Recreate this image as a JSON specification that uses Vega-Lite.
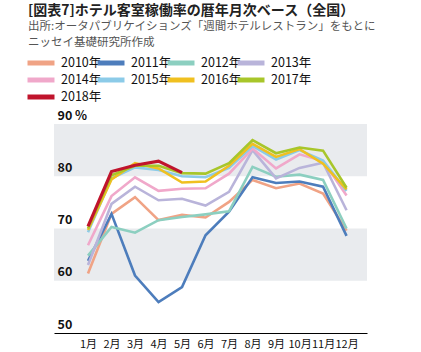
{
  "$schema": "https://vega.github.io/schema/vega-lite/v6.json",
  "width": 313,
  "height": 209,
  "autosize": "none",
  "padding": {"left": 54, "top": 124, "right": 54, "bottom": 19},
  "background": "white",
  "config": {"view": {"stroke": null}, "font": "Noto Sans CJK JP"},
  "title": {
    "text": "[図表7]ホテル客室稼働率の暦年月次ベース（全国）",
    "subtitle": ["出所:オータパブリケイションズ「週間ホテルレストラン」をもとに", "ニッセイ基礎研究所作成"],
    "anchor": "start",
    "frame": "group",
    "dx": -26,
    "dy": -3,
    "offset": 5,
    "font": "Noto Sans CJK JP",
    "fontSize": 14,
    "fontWeight": "bold",
    "color": "#222222",
    "subtitleFont": "Noto Sans CJK JP",
    "subtitleFontSize": 11.5,
    "subtitleColor": "#555555",
    "subtitlePadding": 3,
    "subtitleLineHeight": 16
  },
  "datasets": {
    "bands": [{"lo": 60, "hi": 70}, {"lo": 80, "hi": 90}],
    "occ": [
      {"year": "2010年", "m": 1, "v": 61.4}, {"year": "2010年", "m": 2, "v": 72.8}, {"year": "2010年", "m": 3, "v": 76.0}, {"year": "2010年", "m": 4, "v": 71.6}, {"year": "2010年", "m": 5, "v": 72.6}, {"year": "2010年", "m": 6, "v": 72.1}, {"year": "2010年", "m": 7, "v": 75.1}, {"year": "2010年", "m": 8, "v": 79.3}, {"year": "2010年", "m": 9, "v": 77.7}, {"year": "2010年", "m": 10, "v": 78.6}, {"year": "2010年", "m": 11, "v": 76.7}, {"year": "2010年", "m": 12, "v": 69.6},
      {"year": "2011年", "m": 1, "v": 63.8}, {"year": "2011年", "m": 2, "v": 72.8}, {"year": "2011年", "m": 3, "v": 61.0}, {"year": "2011年", "m": 4, "v": 55.9}, {"year": "2011年", "m": 5, "v": 58.8}, {"year": "2011年", "m": 6, "v": 68.7}, {"year": "2011年", "m": 7, "v": 73.2}, {"year": "2011年", "m": 8, "v": 79.8}, {"year": "2011年", "m": 9, "v": 78.7}, {"year": "2011年", "m": 10, "v": 79.0}, {"year": "2011年", "m": 11, "v": 78.0}, {"year": "2011年", "m": 12, "v": 68.6},
      {"year": "2012年", "m": 1, "v": 64.8}, {"year": "2012年", "m": 2, "v": 70.3}, {"year": "2012年", "m": 3, "v": 69.2}, {"year": "2012年", "m": 4, "v": 71.6}, {"year": "2012年", "m": 5, "v": 72.2}, {"year": "2012年", "m": 6, "v": 72.7}, {"year": "2012年", "m": 7, "v": 73.3}, {"year": "2012年", "m": 8, "v": 81.8}, {"year": "2012年", "m": 9, "v": 79.9}, {"year": "2012年", "m": 10, "v": 80.3}, {"year": "2012年", "m": 11, "v": 79.3}, {"year": "2012年", "m": 12, "v": 70.0},
      {"year": "2013年", "m": 1, "v": 63.0}, {"year": "2013年", "m": 2, "v": 74.7}, {"year": "2013年", "m": 3, "v": 78.0}, {"year": "2013年", "m": 4, "v": 75.4}, {"year": "2013年", "m": 5, "v": 75.7}, {"year": "2013年", "m": 6, "v": 74.4}, {"year": "2013年", "m": 7, "v": 77.0}, {"year": "2013年", "m": 8, "v": 85.0}, {"year": "2013年", "m": 9, "v": 79.6}, {"year": "2013年", "m": 10, "v": 81.6}, {"year": "2013年", "m": 11, "v": 82.6}, {"year": "2013年", "m": 12, "v": 73.5},
      {"year": "2014年", "m": 1, "v": 66.8}, {"year": "2014年", "m": 2, "v": 76.2}, {"year": "2014年", "m": 3, "v": 79.8}, {"year": "2014年", "m": 4, "v": 77.2}, {"year": "2014年", "m": 5, "v": 77.6}, {"year": "2014年", "m": 6, "v": 77.7}, {"year": "2014年", "m": 7, "v": 80.5}, {"year": "2014年", "m": 8, "v": 85.3}, {"year": "2014年", "m": 9, "v": 81.5}, {"year": "2014年", "m": 10, "v": 84.2}, {"year": "2014年", "m": 11, "v": 82.9}, {"year": "2014年", "m": 12, "v": 76.3},
      {"year": "2015年", "m": 1, "v": 69.3}, {"year": "2015年", "m": 2, "v": 79.6}, {"year": "2015年", "m": 3, "v": 81.7}, {"year": "2015年", "m": 4, "v": 81.2}, {"year": "2015年", "m": 5, "v": 80.0}, {"year": "2015年", "m": 6, "v": 79.8}, {"year": "2015年", "m": 7, "v": 81.6}, {"year": "2015年", "m": 8, "v": 85.8}, {"year": "2015年", "m": 9, "v": 83.2}, {"year": "2015年", "m": 10, "v": 85.0}, {"year": "2015年", "m": 11, "v": 83.0}, {"year": "2015年", "m": 12, "v": 77.2},
      {"year": "2016年", "m": 1, "v": 69.7}, {"year": "2016年", "m": 2, "v": 79.4}, {"year": "2016年", "m": 3, "v": 82.5}, {"year": "2016年", "m": 4, "v": 81.5}, {"year": "2016年", "m": 5, "v": 78.8}, {"year": "2016年", "m": 6, "v": 79.0}, {"year": "2016年", "m": 7, "v": 82.0}, {"year": "2016年", "m": 8, "v": 86.2}, {"year": "2016年", "m": 9, "v": 83.7}, {"year": "2016年", "m": 10, "v": 85.2}, {"year": "2016年", "m": 11, "v": 82.4}, {"year": "2016年", "m": 12, "v": 77.5},
      {"year": "2017年", "m": 1, "v": 70.0}, {"year": "2017年", "m": 2, "v": 80.2}, {"year": "2017年", "m": 3, "v": 82.0}, {"year": "2017年", "m": 4, "v": 82.0}, {"year": "2017年", "m": 5, "v": 80.6}, {"year": "2017年", "m": 6, "v": 80.5}, {"year": "2017年", "m": 7, "v": 82.5}, {"year": "2017年", "m": 8, "v": 86.9}, {"year": "2017年", "m": 9, "v": 84.4}, {"year": "2017年", "m": 10, "v": 85.5}, {"year": "2017年", "m": 11, "v": 84.9}, {"year": "2017年", "m": 12, "v": 77.8},
      {"year": "2018年", "m": 1, "v": 70.4}, {"year": "2018年", "m": 2, "v": 80.9}, {"year": "2018年", "m": 3, "v": 82.1}, {"year": "2018年", "m": 4, "v": 82.9}, {"year": "2018年", "m": 5, "v": 80.7}
    ]
  },
  "layer": [
    {
      "data": {"name": "bands"},
      "mark": {"type": "rect", "color": "#e9ebee"},
      "encoding": {
        "y": {
          "field": "lo", "type": "quantitative",
          "scale": {"domain": [50, 90], "nice": false, "zero": false},
          "axis": {
            "values": [50, 60, 70, 80, 90],
            "labelExpr": "datum.value == 90 ? '90 %' : datum.label",
            "title": null, "grid": false, "ticks": false, "domain": false, "zindex": 2,
            "labelAlign": "left", "labelBaseline": "bottom", "labelPadding": -3, "labelOffset": -2,
            "labelColor": "#111111", "labelFontSize": 12.5, "labelFontWeight": "bold",
            "labelFont": "Noto Sans CJK JP", "labelFlush": false, "labelOverlap": false
          }
        },
        "y2": {"field": "hi"}
      }
    },
    {
      "data": {"name": "occ"},
      "mark": {"type": "line", "strokeCap": "butt", "strokeJoin": "miter"},
      "encoding": {
        "x": {
          "field": "m", "type": "quantitative",
          "scale": {"domain": [-0.447, 12.87], "nice": false, "zero": false},
          "axis": {
            "values": [1, 2, 3, 4, 5, 6, 7, 8, 9, 10, 11, 12],
            "labelExpr": "datum.value + '月'",
            "title": null, "grid": false, "ticks": false, "zindex": 2,
            "domainColor": "#000000", "domainWidth": 1,
            "labelColor": "#111111", "labelFontSize": 11, "labelPadding": 5,
            "labelFont": "Noto Sans CJK JP", "labelFlush": false, "labelOverlap": false
          }
        },
        "y": {
          "field": "v", "type": "quantitative",
          "scale": {"domain": [50, 90], "nice": false, "zero": false},
          "axis": {
            "values": [50, 60, 70, 80, 90],
            "labelExpr": "datum.value == 90 ? '90 %' : datum.label",
            "title": null, "grid": false, "ticks": false, "domain": false, "zindex": 2,
            "labelAlign": "left", "labelBaseline": "bottom", "labelPadding": -3, "labelOffset": -2,
            "labelColor": "#111111", "labelFontSize": 12.5, "labelFontWeight": "bold",
            "labelFont": "Noto Sans CJK JP", "labelFlush": false, "labelOverlap": false
          }
        },
        "color": {
          "field": "year", "type": "nominal",
          "scale": {
            "domain": ["2010年", "2011年", "2012年", "2013年", "2014年", "2015年", "2016年", "2017年", "2018年"],
            "range": ["#f0a385", "#4d7dbc", "#8ccfc0", "#b9b4da", "#f0a8ca", "#8ccbe8", "#f0c020", "#a8c62a", "#c0142c"]
          },
          "legend": {
            "orient": "none", "legendX": -20, "legendY": -68,
            "direction": "horizontal", "columns": 4,
            "title": null,
            "symbolType": "M-3,0H3", "symbolSize": 81, "symbolStrokeWidth": 5,
            "labelFont": "Noto Sans CJK JP", "labelFontSize": 12.5, "labelColor": "#111111",
            "labelOffset": 13, "columnPadding": -15, "rowPadding": -3
          }
        },
        "strokeWidth": {
          "condition": {"test": "datum.year == '2018年'", "value": 3.2},
          "value": 2.6
        }
      }
    }
  ]
}
